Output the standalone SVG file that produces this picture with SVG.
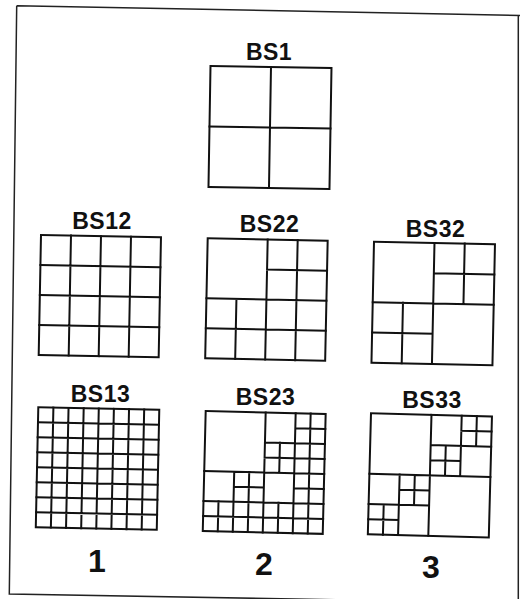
<svg xmlns="http://www.w3.org/2000/svg" width="520" height="599" viewBox="0 0 520 599">
<style>
.g{fill:none;stroke:#111;stroke-width:2;stroke-linecap:square}
.lbl{font-family:"Liberation Sans",Arial,sans-serif;font-weight:bold;font-size:23px;letter-spacing:0.5px;fill:#111;text-anchor:middle}
.num{font-family:"Liberation Sans",Arial,sans-serif;font-weight:bold;font-size:32px;fill:#111;text-anchor:middle}
.frame{fill:none;stroke:#222;stroke-width:1.5}
</style>
<rect width="520" height="599" fill="#fff"/>
<g id="frame">
<path class="frame" d="M16.7 5.7L520 15.5M16.7 5.7L9.3 594L520 603M518.3 15.5V599"/>
</g>
<g id="bs1">
<text class="lbl" x="269" y="59.5">BS1</text>
<g transform="translate(210.5,66) rotate(0.95)">
<rect class="g" x="0" y="0" width="121" height="121"/>
<path class="g" d="M60.5 0V121M0 60.5H121"/>
</g>
</g>
<g id="bs12">
<text class="lbl" x="102" y="228.5">BS12</text>
<g transform="translate(41,235) rotate(1.1)">
<rect class="g" x="0" y="0" width="120" height="120"/>
<path class="g" d="M30 0V120M60 0V120M90 0V120M0 30H120M0 60H120M0 90H120"/>
</g>
</g>
<g id="bs22">
<text class="lbl" x="269.5" y="232">BS22</text>
<g transform="translate(207.7,238.3) rotate(1.2)">
<rect class="g" x="0" y="0" width="120" height="120"/>
<path class="g" d="M60 0V120M0 60H120M90 0V120M30 60V120M60 30H120M0 90H120"/>
</g>
</g>
<g id="bs32">
<text class="lbl" x="435.5" y="236.5">BS32</text>
<g transform="translate(374,241.7) rotate(1.2)">
<rect class="g" x="0" y="0" width="121" height="121"/>
<path class="g" d="M60.5 0V121M0 60.5H121M90.75 0V60.5M60.5 30.25H121M30.25 60.5V121M0 90.75H60.5"/>
</g>
</g>
<g id="bs13">
<text class="lbl" x="100.5" y="402">BS13</text>
<g transform="translate(38.3,407.3) rotate(1.2)">
<rect class="g" x="0" y="0" width="121" height="120"/>
<path class="g" d="M15.1 0V120M30.25 0V120M45.4 0V120M60.5 0V120M75.6 0V120M90.75 0V120M105.9 0V120M0 15H121M0 30H121M0 45H121M0 60H121M0 75H121M0 90H121M0 105H121"/>
</g>
</g>
<g id="bs23">
<text class="lbl" x="265.5" y="404.5">BS23</text>
<g transform="translate(205.7,411) rotate(1.4)">
<rect class="g" x="0" y="0" width="120" height="120"/>
<path class="g" d="M60 0V120M0 60H120M90 0V60M60 30H120M105 0V30M90 15H120M75 30V60M60 45H90M105 30V60M90 45H120M30 60V120M0 90H60M45 60V90M30 75H60M15 90V120M0 105H30M45 90V120M30 105H60M90 60V120M60 90H120M105 60V90M90 75H120M75 90V120M60 105H90M105 90V120M90 105H120"/>
</g>
</g>
<g id="bs33">
<text class="lbl" x="432" y="407.5">BS33</text>
<g transform="translate(371,413.3) rotate(1.5)">
<rect class="g" x="0" y="0" width="121" height="121"/>
<path class="g" d="M60.5 0V121M0 60.5H121M90.75 0V60.5M60.5 30.25H121M105.9 0V30.25M90.75 15.1H121M75.6 30.25V60.5M60.5 45.4H90.75M30.25 60.5V121M0 90.75H60.5M45.4 60.5V90.75M30.25 75.6H60.5M15.1 90.75V121M0 105.9H30.25"/>
</g>
</g>
<g id="n1"><text class="num" x="97" y="572">1</text></g>
<g id="n2"><text class="num" x="264" y="574.5">2</text></g>
<g id="n3"><text class="num" x="431" y="577.5">3</text></g>
</svg>
